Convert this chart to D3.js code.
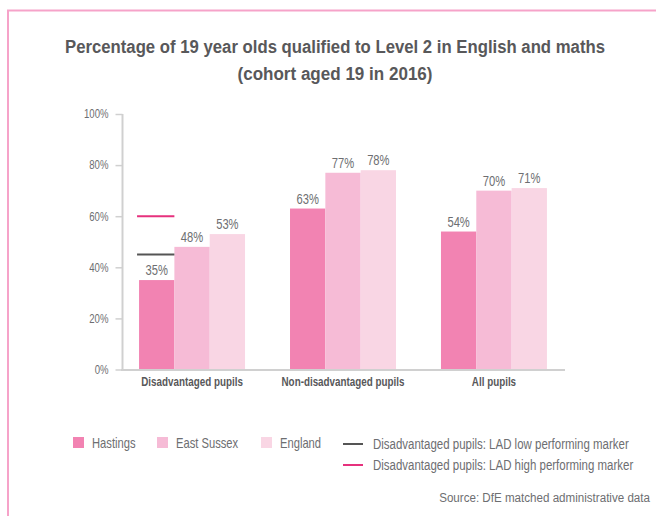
<!DOCTYPE html>
<html>
<head>
<meta charset="utf-8">
<script src="https://cdn.jsdelivr.net/npm/d3@7"></script>
<style>
  body { margin: 0; background: #fff; }
  svg text { font-family: "Liberation Sans", Arial, sans-serif; }
</style>
</head>
<body>
<svg id="chart" width="656" height="516"></svg>
<script>
// ---- data ----
const categories = ['Disadvantaged pupils', 'Non-disadvantaged pupils', 'All pupils'];
const seriesNames = ['Hastings', 'East Sussex', 'England'];
const hastings = [35, 63, 54];
const eastSussex = [48, 77, 70];
const england = [53, 78, 71];
const yTicks = [0, 20, 40, 60, 80, 100];
const lowMarker = 45;   // LAD low performing marker (disadvantaged)
const highMarker = 60;  // LAD high performing marker (disadvantaged)

const colors = ['#f283b2', '#f6bbd6', '#f9d6e4'];
const markerColors = { low: '#555555', high: '#e6317d' };

// the original uses a condensed face; squeeze Liberation Sans horizontally
function condense(sel, k) {
    sel.each(function () {
        const t = d3.select(this);
        const x = +t.attr('x') || 0;
        const y = +t.attr('y') || 0;
        t.attr('x', 0).attr('y', 0)
            .attr('transform', `translate(${x},${y}) scale(${k},1)`);
    });
}

const svg = d3.select('#chart');

// pink frame (top + left)
svg.append('path')
    .attr('d', 'M8,516 V10.5 H656')
    .attr('fill', 'none')
    .attr('stroke', '#f6a3c9')
    .attr('stroke-width', 2);

// title
const titleLines = ['Percentage of 19 year olds qualified to Level 2 in English and maths',
                    '(cohort aged 19 in 2016)'];
const titleWidths = [540, 195];
svg.append('g').selectAll('text')
    .data(titleLines)
    .join('text')
    .attr('x', 335)
    .attr('y', (d, i) => 53 + i * 27)
    .attr('text-anchor', 'middle')
    .attr('fill', '#58585a')
    .attr('font-size', 18)
    .attr('font-weight', 'bold')
    .attr('textLength', (d, i) => titleWidths[i])
    .attr('lengthAdjust', 'spacingAndGlyphs')
    .text(d => d);

// scales
const x0 = d3.scaleBand()
    .domain(categories)
    .range([122, 564])
    .paddingInner(0.298)
    .paddingOuter(0.113);
const x1 = d3.scaleBand()
    .domain(seriesNames)
    .range([0, x0.bandwidth()]);
const y = d3.scaleLinear().domain([0, 100]).range([369.5, 114]);

// y axis
const yAxis = svg.append('g')
    .attr('transform', 'translate(122.5,0)')
    .call(d3.axisLeft(y).tickValues(yTicks).tickSize(7).tickPadding(7).tickFormat(d => d + '%'));
yAxis.select('.domain').attr('stroke', '#d0d0d0').attr('stroke-width', 2).attr('d', 'M0,114V370');
yAxis.selectAll('.tick line').attr('stroke', '#d0d0d0').attr('stroke-width', 1.5);
yAxis.selectAll('.tick text')
    .attr('fill', '#6d6e71')
    .attr('font-size', 12)
    .style('font-family', '"Liberation Sans", Arial, sans-serif')
    .call(condense, 0.8);

// bars
const rows = categories.map((c, i) => ({
    cat: c,
    vals: [hastings[i], eastSussex[i], england[i]]
}));

const groups = svg.append('g').selectAll('g')
    .data(rows)
    .join('g')
    .attr('transform', d => `translate(${x0(d.cat)},0)`);

groups.selectAll('rect')
    .data(d => d.vals.map((v, j) => ({ key: seriesNames[j], v, j })))
    .join('rect')
    .attr('x', d => x1(d.key))
    .attr('y', d => y(d.v))
    .attr('width', x1.bandwidth())
    .attr('height', d => y(0) - y(d.v))
    .attr('fill', d => colors[d.j]);

groups.selectAll('text.val')
    .data(d => d.vals.map((v, j) => ({ key: seriesNames[j], v, j })))
    .join('text')
    .attr('class', 'val')
    .attr('x', d => x1(d.key) + x1.bandwidth() / 2)
    .attr('y', d => y(d.v) - 5)
    .attr('text-anchor', 'middle')
    .attr('fill', '#6d6e71')
    .attr('font-size', 14)
    .text(d => d.v + '%')
    .call(condense, 0.8);

// baseline
svg.append('line')
    .attr('x1', 121).attr('x2', 565)
    .attr('y1', y(0) + 0.5).attr('y2', y(0) + 0.5)
    .attr('stroke', '#d0d0d0')
    .attr('stroke-width', 2);

// category labels
svg.append('g').selectAll('text')
    .data(categories)
    .join('text')
    .attr('x', d => x0(d) + x0.bandwidth() / 2)
    .attr('y', 386)
    .attr('text-anchor', 'middle')
    .attr('fill', '#58585a')
    .attr('font-size', 12)
    .attr('font-weight', 'bold')
    .text(d => d)
    .call(condense, 0.82);

// LAD markers on the disadvantaged Hastings bar
const mx = x0(categories[0]) + x1(seriesNames[0]);
[[lowMarker, markerColors.low], [highMarker, markerColors.high]].forEach(([v, c]) => {
    svg.append('line')
        .attr('x1', mx - 2).attr('x2', mx + x1.bandwidth())
        .attr('y1', y(v)).attr('y2', y(v))
        .attr('stroke', c)
        .attr('stroke-width', 2);
});

// legend
const legend = svg.append('g');
const swatchX = [73, 157, 261];
seriesNames.forEach((s, i) => {
    legend.append('rect')
        .attr('x', swatchX[i]).attr('y', 437)
        .attr('width', 11).attr('height', 11)
        .attr('fill', colors[i]);
    legend.append('text')
        .attr('x', swatchX[i] + 19).attr('y', 448)
        .attr('fill', '#6d6e71')
        .attr('font-size', 14)
        .text(s)
        .call(condense, 0.8);
});
const lineItems = [
    ['Disadvantaged pupils: LAD low performing marker', markerColors.low, 444],
    ['Disadvantaged pupils: LAD high performing marker', markerColors.high, 465]
];
lineItems.forEach(([label, c, ly]) => {
    legend.append('line')
        .attr('x1', 343).attr('x2', 363)
        .attr('y1', ly).attr('y2', ly)
        .attr('stroke', c)
        .attr('stroke-width', 2);
    legend.append('text')
        .attr('x', 373).attr('y', ly + 5)
        .attr('fill', '#6d6e71')
        .attr('font-size', 14)
        .text(label)
        .call(condense, 0.82);
});

// source
svg.append('text')
    .attr('x', 650).attr('y', 502)
    .attr('text-anchor', 'end')
    .attr('fill', '#6d6e71')
    .attr('font-size', 13.5)
    .text('Source: DfE matched administrative data')
    .call(condense, 0.86);
</script>
</body>
</html>
